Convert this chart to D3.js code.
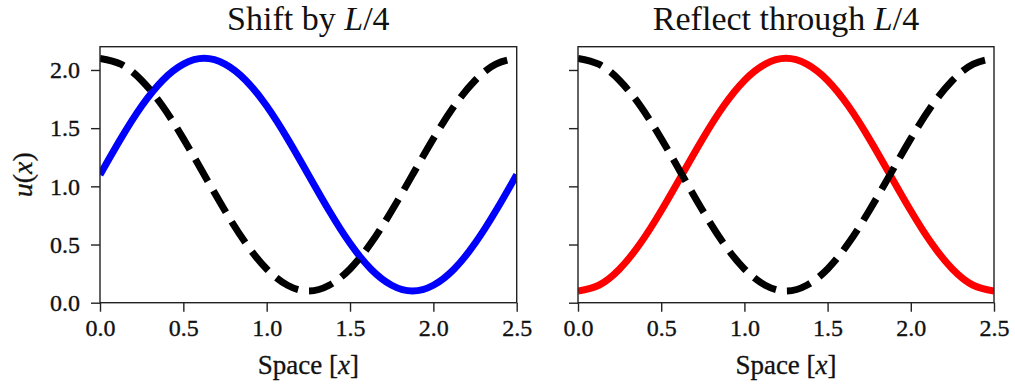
<!DOCTYPE html>
<html>
<head>
<meta charset="utf-8">
<script src="https://cdn.jsdelivr.net/npm/d3@7/dist/d3.min.js"></script>
<style>
  html, body { margin: 0; padding: 0; background: #fff; }
  svg { display: block; }
  text { font-family: "Liberation Serif", "Times New Roman", serif; fill: #111; }
</style>
</head>
<body>
<svg id="chart" width="1015" height="385"></svg>
<script>
// Sample positions along the domain [0, L] with L = 2.5
const xValues = [0, 0.125, 0.25, 0.375, 0.5, 0.625, 0.75, 0.875, 1.0, 1.125, 1.25,
                 1.375, 1.5, 1.625, 1.75, 1.875, 2.0, 2.125, 2.25, 2.375, 2.5];

// Original profile u(x) (dashed in both panels)
const baseValues = [2.10, 2.05, 1.91, 1.69, 1.41, 1.10, 0.79, 0.51, 0.29, 0.15, 0.10,
                    0.15, 0.29, 0.51, 0.79, 1.10, 1.41, 1.69, 1.91, 2.05, 2.10];

// Profile shifted by L/4
const shiftedValues = [1.10, 1.41, 1.69, 1.91, 2.05, 2.10, 2.05, 1.91, 1.69, 1.41, 1.10,
                       0.79, 0.51, 0.29, 0.15, 0.10, 0.15, 0.29, 0.51, 0.79, 1.10];

// Profile reflected through L/4
const reflectedValues = [0.10, 0.15, 0.29, 0.51, 0.79, 1.10, 1.41, 1.69, 1.91, 2.05, 2.10,
                         2.05, 1.91, 1.69, 1.41, 1.10, 0.79, 0.51, 0.29, 0.15, 0.10];

const xTicks = [0.0, 0.5, 1.0, 1.5, 2.0, 2.5];
const yTicks = [0.0, 0.5, 1.0, 1.5, 2.0];
const xDomain = [0, 2.5];
const yDomain = [0, 2.2];

const panels = [
  { title: ["Shift by ", "L", "/4"], values: shiftedValues, color: "#0000ff", left: 100, right: 516.7, yLabels: true },
  { title: ["Reflect through ", "L", "/4"], values: reflectedValues, color: "#ff0000", left: 578, right: 994, yLabels: false }
];

const plotTop = 46.7, plotBottom = 302.7;
const svg = d3.select("#chart");

panels.forEach((p, i) => {
  const x = d3.scaleLinear().domain(xDomain).range([p.left, p.right]);
  const y = d3.scaleLinear().domain(yDomain).range([plotBottom, plotTop]);
  const g = svg.append("g");

  const clipId = "clip" + i;
  svg.append("clipPath").attr("id", clipId)
    .append("rect")
    .attr("x", p.left).attr("y", plotTop)
    .attr("width", p.right - p.left).attr("height", plotBottom - plotTop);

  const line = (vals) => d3.line()
    .x((d, k) => x(xValues[k]))
    .y(d => y(d))
    .curve(d3.curveNatural)(vals);

  const plot = g.append("g").attr("clip-path", `url(#${clipId})`);

  // Transformed profile (solid)
  plot.append("path")
    .attr("d", line(p.values))
    .attr("fill", "none")
    .attr("stroke", p.color)
    .attr("stroke-width", 7);

  // Original profile (dashed)
  plot.append("path")
    .attr("d", line(baseValues))
    .attr("fill", "none")
    .attr("stroke", "#000")
    .attr("stroke-width", 7)
    .attr("stroke-dasharray", "25,11");

  // Frame
  g.append("rect")
    .attr("x", p.left).attr("y", plotTop)
    .attr("width", p.right - p.left).attr("height", plotBottom - plotTop)
    .attr("fill", "none").attr("stroke", "#222").attr("stroke-width", 1.4);

  // Bottom axis
  const xAxis = g.append("g").attr("transform", `translate(0,${plotBottom})`)
    .call(d3.axisBottom(x).tickValues(xTicks).tickFormat(d3.format(".1f")).tickSize(9).tickPadding(7));
  // Left axis
  const yAxis = g.append("g").attr("transform", `translate(${p.left},0)`)
    .call(d3.axisLeft(y).tickValues(yTicks).tickFormat(p.yLabels ? d3.format(".1f") : () => "").tickSize(9).tickPadding(11));

  [xAxis, yAxis].forEach(a => {
    a.select(".domain").remove();
    a.selectAll(".tick line").attr("stroke", "#222").attr("stroke-width", 1.4);
    a.selectAll(".tick text")
      .attr("font-family", "Liberation Serif, serif")
      .attr("font-size", 24)
      .attr("fill", "#111")
      .attr("stroke", "#111").attr("stroke-width", 0.35);
  });
  xAxis.selectAll(".tick text").attr("dy", "0.72em");

  // Title
  const t = g.append("text")
    .attr("x", (p.left + p.right) / 2).attr("y", 30)
    .attr("text-anchor", "middle")
    .attr("font-size", 34);
  t.append("tspan").text(p.title[0]);
  t.append("tspan").attr("font-style", "italic").text(p.title[1]);
  t.append("tspan").text(p.title[2]);

  // X axis label
  const xl = g.append("text")
    .attr("x", (p.left + p.right) / 2).attr("y", 374)
    .attr("text-anchor", "middle")
    .attr("font-size", 27)
    .attr("stroke", "#111").attr("stroke-width", 0.3);
  xl.append("tspan").text("Space [");
  xl.append("tspan").attr("font-style", "italic").text("x");
  xl.append("tspan").text("]");
});

// Y axis label
const yl = svg.append("text")
  .attr("transform", `translate(32,${(plotTop + plotBottom) / 2}) rotate(-90)`)
  .attr("text-anchor", "middle")
  .attr("font-size", 28)
  .attr("stroke", "#111").attr("stroke-width", 0.3);
yl.append("tspan").attr("font-style", "italic").text("u");
yl.append("tspan").text("(");
yl.append("tspan").attr("font-style", "italic").text("x");
yl.append("tspan").text(")");
</script>
</body>
</html>
